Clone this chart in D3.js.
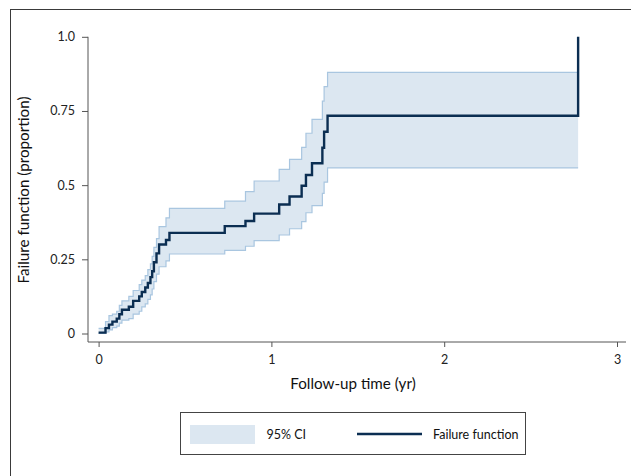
<html>
<head>
<meta charset="utf-8">
<title>Failure function</title>
<style>
  body { margin: 0; background: #fff; }
  svg { display: block; font-family: Lato, 'Noto Sans', sans-serif; }
  .tick text { fill: #222; }
</style>
</head>
<body>
<div id="chart"></div>
<script src="https://cdnjs.cloudflare.com/ajax/libs/d3/7.8.5/d3.min.js"></script>
<script>
// step times (yr) and estimates
const times = [0, 0.04, 0.06, 0.08, 0.105, 0.12, 0.135, 0.175, 0.2, 0.235, 0.25, 0.27, 0.285, 0.3, 0.31, 0.32, 0.335, 0.35, 0.39, 0.41,
  0.73, 0.85, 0.9, 1.045, 1.105, 1.175, 1.2, 1.235, 1.295, 1.305, 1.325, 2.775]
const failure = [0.003, 0.018, 0.03, 0.04, 0.05, 0.065, 0.08, 0.09, 0.11, 0.125, 0.14, 0.155, 0.17, 0.19, 0.21, 0.24, 0.27, 0.30, 0.315, 0.339,
  0.362, 0.379, 0.404, 0.435, 0.462, 0.498, 0.534, 0.574, 0.626, 0.68, 0.734, 1.0]
const upper = [0.017, 0.04, 0.06, 0.065, 0.075, 0.095, 0.11, 0.125, 0.145, 0.165, 0.18, 0.195, 0.215, 0.235, 0.26, 0.29, 0.32, 0.36, 0.39, 0.422,
  0.446, 0.478, 0.514, 0.553, 0.587, 0.627, 0.675, 0.722, 0.783, 0.832, 0.88, 0.88]
const lower = [0.0, 0.005, 0.012, 0.02, 0.025, 0.035, 0.045, 0.05, 0.065, 0.075, 0.09, 0.1, 0.115, 0.13, 0.15, 0.175, 0.2, 0.225, 0.245, 0.268,
  0.28, 0.294, 0.313, 0.332, 0.353, 0.377, 0.407, 0.431, 0.472, 0.51, 0.558, 0.558]

const xTicks = [0, 1, 2, 3]
const yTicks = [0, 0.25, 0.5, 0.75, 1.0]
const yTickLabels = ['0', '0.25', '0.5', '0.75', '1.0']
const legendLabels = ['95% CI', 'Failure function']

const width = 631, height = 476
const bandFill = '#dce7f1', bandStroke = '#a9c6e0', lineColor = '#0b2e52'

const svg = d3.select('#chart').append('svg')
  .attr('width', width)
  .attr('height', height)

// outer frame (runs off the right and bottom)
svg.append('rect')
  .attr('x', 10.5).attr('y', 9.5)
  .attr('width', 640).attr('height', 500)
  .attr('fill', 'none').attr('stroke', '#3a3a3a')

const x = d3.scaleLinear().domain([0, 3]).range([98.6, 617])
const y = d3.scaleLinear().domain([0, 1]).range([333.5, 36.8])

const pts = times.map((t, i) => ({ t, f: failure[i], lo: lower[i], hi: upper[i] }))

// CI band
const area = d3.area().curve(d3.curveStepAfter)
  .x(d => x(d.t)).y0(d => y(d.lo)).y1(d => y(d.hi))
svg.append('path').datum(pts)
  .attr('d', area)
  .attr('fill', bandFill)

const edge = key => d3.line().curve(d3.curveStepAfter).x(d => x(d.t)).y(d => y(d[key]))
svg.append('path').datum(pts).attr('d', edge('hi'))
  .attr('fill', 'none').attr('stroke', bandStroke).attr('stroke-width', 1.2)
svg.append('path').datum(pts).attr('d', edge('lo'))
  .attr('fill', 'none').attr('stroke', bandStroke).attr('stroke-width', 1.2)

// failure function
svg.append('path').datum(pts)
  .attr('d', edge('f'))
  .attr('fill', 'none')
  .attr('stroke', lineColor)
  .attr('stroke-width', 2.4)

// axes
const xAxis = svg.append('g')
  .attr('transform', 'translate(0,342)')
  .call(d3.axisBottom(x).tickValues(xTicks).tickFormat(d3.format('d')).tickSize(5).tickSizeOuter(0).tickPadding(8))
xAxis.select('.domain').attr('d', 'M88,0H626')

const yAxis = svg.append('g')
  .attr('transform', 'translate(88,0)')
  .call(d3.axisLeft(y).tickValues(yTicks).tickFormat((d, i) => yTickLabels[i]).tickSize(6).tickSizeOuter(0).tickPadding(7))
yAxis.select('.domain').attr('d', 'M0,' + y(1) + 'V342')

svg.selectAll('.domain, .tick line').attr('stroke', '#555')
svg.selectAll('.tick text').attr('font-size', 12.5).attr('font-family', 'Lato, sans-serif')

svg.append('text')
  .attr('x', 353).attr('y', 389)
  .attr('text-anchor', 'middle')
  .attr('font-size', 15.2).attr('fill', '#111')
  .text('Follow-up time (yr)')

svg.append('text')
  .attr('transform', 'translate(29,190) rotate(-90)')
  .attr('text-anchor', 'middle')
  .attr('font-size', 15.2).attr('fill', '#111')
  .text('Failure function (proportion)')

// legend
const legend = svg.append('g')
legend.append('rect')
  .attr('x', 180.5).attr('y', 412.5).attr('width', 345).attr('height', 42)
  .attr('fill', '#fff').attr('stroke', '#444')
legend.append('rect')
  .attr('x', 190).attr('y', 425).attr('width', 65).attr('height', 19)
  .attr('fill', bandFill)
legend.append('line')
  .attr('x1', 357).attr('x2', 422).attr('y1', 434).attr('y2', 434)
  .attr('stroke', lineColor).attr('stroke-width', 2.4)
legend.selectAll('text.lab')
  .data(legendLabels)
  .join('text')
  .attr('class', 'lab')
  .attr('x', (d, i) => [266.5, 433][i])
  .attr('y', 438.5)
  .attr('font-size', 12.5).attr('fill', '#111')
  .text(d => d)
</script>
</body>
</html>
